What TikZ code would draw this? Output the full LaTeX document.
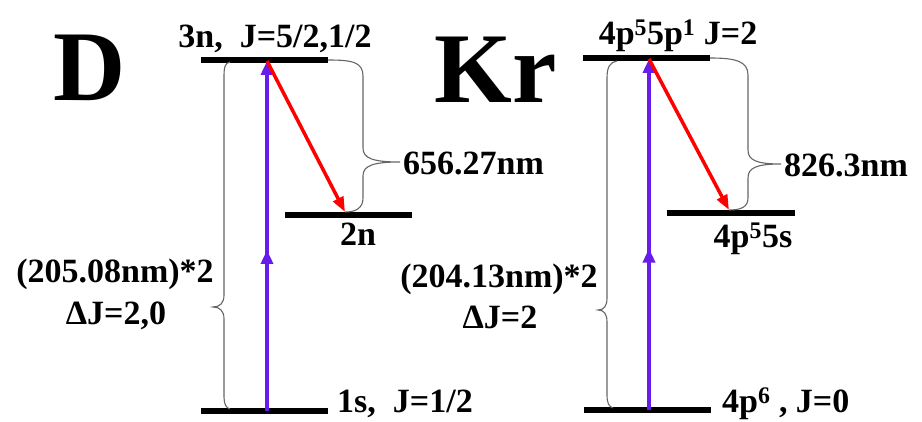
\documentclass[tikz,border=0pt]{standalone}
\usepackage{fontspec}
\setmainfont{Liberation Serif}
\usetikzlibrary{arrows.meta,decorations.markings}
\definecolor{pump}{RGB}{104,28,236}

\begin{document}
\begin{tikzpicture}[x=1pt,y=-1pt,font=\bfseries\fontsize{34}{42}\selectfont,
 level/.style={line width=6pt},
 pumparr/.style={pump,line width=3.5pt,-{Triangle[length=14pt,width=12pt]},
  postaction={decorate},
  decoration={markings,mark=at position 0.46 with {\arrow{Triangle[length=14pt,width=12pt]}}}},
 decay/.style={red,line width=3.5pt,-{Triangle[length=15pt,width=11pt]}},
 brace/.style={draw=black!60,line width=1.1pt},
 atom/.style={font=\bfseries\fontsize{100}{100}\selectfont,anchor=base,inner sep=0pt},
 lbl/.style={anchor=base,inner sep=0pt}]

\useasboundingbox (0,0) rectangle (922,422);

% deuterium
\node[atom] (dname) at (90,101) {D};
\coordinate (d3w) at (201,60);  \coordinate (d3e) at (328,60);
\coordinate (d2w) at (285,215); \coordinate (d2e) at (412,215);
\coordinate (d1w) at (201,411); \coordinate (d1e) at (328,411);
\draw[level] (d3w) -- (d3e);
\draw[level] (d2w) -- (d2e);
\draw[level] (d1w) -- (d1e);

\coordinate (dlow) at (267,411);
\coordinate (dup) at (267,61);
\coordinate (dmid) at (345,212);
\draw[pumparr] (dlow) -- (dup);
\draw[decay] (dup) -- (dmid);

\draw[brace] (230,62) .. controls (225,63) and (224,67) .. (224,77) -- (224,295)
 .. controls (224,303) and (220,307) .. (213,307) .. controls (220,307) and (224,311) .. (224,319)
 -- (224,397) .. controls (224,404) and (226,408) .. (230,409);
\draw[brace] (d3e) .. controls (352,60) and (363,62) .. (363,76) -- (363,148)
 .. controls (363,158) and (372,162) .. (400,162) .. controls (372,162) and (363,166) .. (363,176)
 -- (363,198) .. controls (363,208) and (356,212) .. (dmid);

\node[lbl] (d3lbl) at (275,48) {3n,\ \ J=5/2,1/2};
\node[lbl] (d2lbl) at (358,246) {2n};
\node[lbl,anchor=base west] (d1lbl) at (337,413) {1s,\ \ J=1/2};
\node[lbl,anchor=base west] (dred) at (403,175) {656.27nm};
\node[lbl] (dpump) at (115,283) {(205.08nm)*2};
\node[lbl] (ddj) at (116,325) {ΔJ=2,0};

% krypton
\node[atom] (krname) at (496,103) {Kr};
\coordinate (k3w) at (583,58);  \coordinate (k3e) at (710,58);
\coordinate (k2w) at (667,213); \coordinate (k2e) at (795,213);
\coordinate (k1w) at (584,410); \coordinate (k1e) at (711,410);
\draw[level] (k3w) -- (k3e);
\draw[level] (k2w) -- (k2e);
\draw[level] (k1w) -- (k1e);

\coordinate (klow) at (649,410);
\coordinate (kup) at (649,59);
\coordinate (kmid) at (729,210);
\draw[pumparr] (klow) -- (kup);
\draw[decay] (kup) -- (kmid);

\draw[brace] (617,61) .. controls (610,62) and (607,67) .. (607,78) -- (607,298)
 .. controls (607,306) and (604,310) .. (598,310) .. controls (604,310) and (607,314) .. (607,322)
 -- (607,395) .. controls (607,403) and (609,407) .. (613,408);
\draw[brace] (k3e) .. controls (735,58) and (748,61) .. (748,75) -- (748,150)
 .. controls (748,160) and (756,164) .. (781,164) .. controls (756,164) and (748,168) .. (748,178)
 -- (748,198) .. controls (748,207) and (741,210) .. (kmid);

\node[lbl] (k3lbl) at (678,45) {4p\textsuperscript{5}5p\textsuperscript{1} J=2};
\node[lbl] (k2lbl) at (753,248) {4p\textsuperscript{5}5s};
\node[lbl,anchor=base west] (k1lbl) at (722,413) {4p\textsuperscript{6} , J=0};
\node[lbl,anchor=base west] (kred) at (784,177) {826.3nm};
\node[lbl] (kpump) at (499,288) {(204.13nm)*2};
\node[lbl] (kdj) at (500,329) {ΔJ=2};

\end{tikzpicture}
\end{document}
